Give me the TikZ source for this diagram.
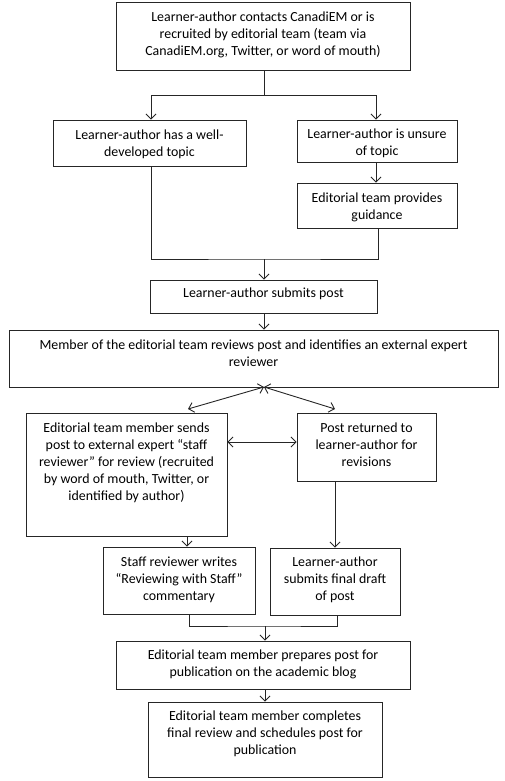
\documentclass[tikz,border=0pt]{standalone}
\usepackage{fontspec}
\setmainfont{Carlito}
\usetikzlibrary{arrows.meta}
\tikzset{
  box/.style={draw=black!85, line width=0.9pt, inner sep=0pt, rectangle},
  txt/.style={anchor=north, align=center, inner sep=0pt, font=\fontsize{13.9}{17}\selectfont},
  conn/.style={draw=black!85, line width=0.9pt},
  arr/.style={conn, -{Straight Barb[length=5pt,width=10pt]}},
  darr/.style={conn, {Straight Barb[length=5pt,width=10pt]}-{Straight Barb[length=5pt,width=10pt]}}
}
\newcommand{\bx}[7]{% name, cx, cy, w, h, text, top offset
  \node[box, minimum width=#4pt, minimum height=#5pt] (#1) at (#2,#3) {};
  \node[txt] (#1t) at ([yshift=-#7pt]#1.north) {\strut #6};
}
\begin{document}
\begin{tikzpicture}[x=1pt,y=-1pt]
\useasboundingbox (0,0) rectangle (504,781);
\bx{b1}{263}{36}{294}{68}{Learner-author contacts CanadiEM or is\\recruited by editorial team (team via\\CanadiEM.org, Twitter, or word of mouth)}{7.5}
\bx{b2}{149.5}{143}{193}{46}{Learner-author has a well-\\developed topic}{7.5}
\bx{b3}{377}{141}{160}{42}{Learner-author is unsure\\of topic}{6.5}
\bx{b4}{377}{205.5}{160}{45}{Editorial team provides\\guidance}{7.5}
\bx{b5}{263.5}{296.5}{227}{33}{Learner-author submits post}{6}
\bx{b6}{253.5}{358.5}{489}{57}{Member of the editorial team reviews post and identifies an external expert\\reviewer}{7.5}
\bx{b7}{126.5}{474.5}{201}{123}{Editorial team member sends\\post to external expert ``staff\\reviewer'' for review (recruited\\by word of mouth, Twitter, or\\identified by author)}{7.5}
\bx{b8}{366.5}{447}{139}{68}{Post returned to\\learner-author for\\revisions}{7.5}
\bx{b9}{179}{580.5}{152}{67}{Staff reviewer writes\\``Reviewing with Staff''\\commentary}{7.5}
\bx{b10}{335}{581.5}{130}{67}{Learner-author\\submits final draft\\of post}{6.5}
\bx{b11}{263}{665}{294}{48}{Editorial team member prepares post for\\publication on the academic blog}{6.5}
\bx{b12}{265}{739.5}{234}{75}{Editorial team member completes\\final review and schedules post for\\publication}{6.5}

\coordinate (j1) at (264,95);
\coordinate (j2) at (264,259);
\coordinate (j3) at (264,387);
\coordinate (p7) at (188,409);
\coordinate (p8) at (335,409);
\coordinate (j4) at (265,626);

\draw[conn] (j1 |- b1.south) -- (j1);
\draw[arr] (j1) -| ([xshift=1.5pt]b2.north);
\draw[arr] (j1) -| ([xshift=-1pt]b3.north);
\draw[arr] ([xshift=-1pt]b3.south) -- ([xshift=-1pt]b4.north);
\draw[conn] ([xshift=1.5pt]b2.south) |- (j2) -| ([xshift=1pt]b4.south);
\draw[arr] (j2) -- (j2 |- b5.north);
\draw[arr] (j2 |- b5.south) -- (j2 |- b6.north);
\draw[darr] (p7) -- (j3);
\draw[darr] (j3) -- (p8);
\draw[darr] (b7.east |- 0,442) -- (b8.west |- 0,442);
\draw[arr] (b8.south -| b10.north) -- (b10.north);
\draw[arr] ([xshift=8pt]b9.north |- b7.south) -- ([xshift=8pt]b9.north);
\draw[conn] ([xshift=10pt]b9.south) |- (j4) -| ([xshift=2pt]b10.south);
\draw[arr] (j4) -- (j4 |- b11.north);
\draw[arr] (j4 |- b11.south) -- (j4 |- b12.north);
\end{tikzpicture}
\end{document}
